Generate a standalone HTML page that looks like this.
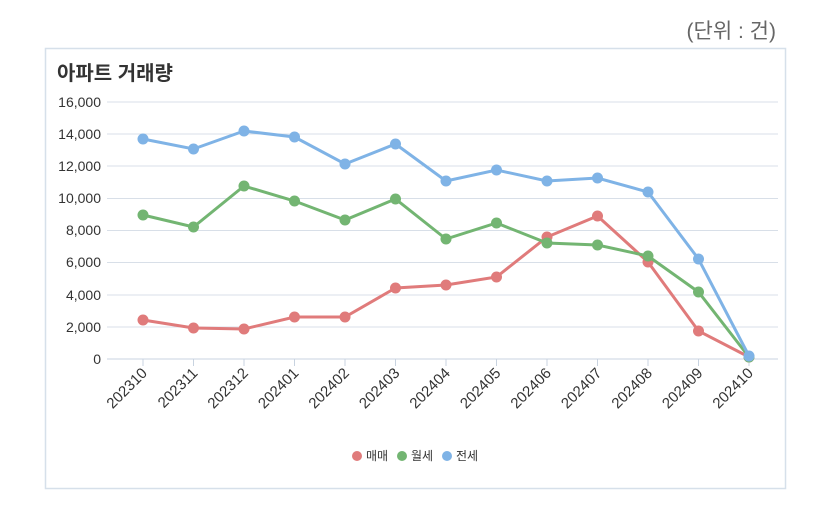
<!DOCTYPE html>
<html><head><meta charset="utf-8"><style>
body{margin:0;background:#fff;width:830px;height:523px;overflow:hidden;font-family:"Liberation Sans","Noto Sans CJK KR",sans-serif}
</style></head><body>
<svg width="830" height="523" xmlns="http://www.w3.org/2000/svg" font-family="Liberation Sans, Noto Sans CJK KR, sans-serif">
<text x="776" y="38" text-anchor="end" font-size="21" fill="#666">(단위 : 건)</text>
<rect x="45.5" y="48.5" width="740" height="440" fill="#fff" stroke="#d6e0ea" stroke-width="1.5"/>
<text x="57" y="80" font-size="20" font-weight="bold" fill="#333">아파트 거래량</text>
<g stroke="#d8dfe8" stroke-width="1">
<line x1="107" x2="778" y1="102" y2="102"/><line x1="107" x2="778" y1="134" y2="134"/>
<line x1="107" x2="778" y1="166" y2="166"/><line x1="107" x2="778" y1="198.5" y2="198.5"/>
<line x1="107" x2="778" y1="230.5" y2="230.5"/><line x1="107" x2="778" y1="262.5" y2="262.5"/>
<line x1="107" x2="778" y1="295" y2="295"/><line x1="107" x2="778" y1="327" y2="327"/>
<line x1="107" x2="778" y1="359" y2="359" stroke="#c8d3e0"/>
</g>
<g font-size="14" fill="#333" text-anchor="end">
<text x="101" y="107">16,000</text><text x="101" y="139">14,000</text><text x="101" y="171">12,000</text>
<text x="101" y="203">10,000</text><text x="101" y="235">8,000</text><text x="101" y="267">6,000</text>
<text x="101" y="300">4,000</text><text x="101" y="332">2,000</text><text x="101" y="364">0</text>
</g>
<g id="ticks" stroke="#c8d3e0"></g>
<g id="labels" font-size="15" fill="#333" text-anchor="end"></g>
<g id="series"></g>
<g font-size="12" fill="#333">
<circle cx="357" cy="456" r="5" fill="#e07b7b"/><text x="366" y="460">매매</text>
<circle cx="402" cy="456" r="5" fill="#73b572"/><text x="411" y="460">월세</text>
<circle cx="447" cy="456" r="5" fill="#7fb3e6"/><text x="456" y="460">전세</text>
</g>
</svg>
<script>
const labels=["202310","202311","202312","202401","202402","202403","202404","202405","202406","202407","202408","202409","202410"];
const ns="http://www.w3.org/2000/svg";
const X=i=>143+i*50.5;
const t=document.getElementById("ticks"),l=document.getElementById("labels"),s=document.getElementById("series");
labels.forEach((lb,i)=>{
 const ln=document.createElementNS(ns,"line");ln.setAttribute("x1",X(i));ln.setAttribute("x2",X(i));ln.setAttribute("y1",359);ln.setAttribute("y2",366);t.appendChild(ln);
 const tx=document.createElementNS(ns,"text");tx.setAttribute("transform",`translate(${X(i)+5},${374}) rotate(-45)`);tx.textContent=lb;l.appendChild(tx);
});
const data=[
 ["#e07b7b",[320,328,329,317,317,288,285,277,237,216,262,331,357]],
 ["#73b572",[215,227,186,201,220,199,239,223,243,245,256,292,357]],
 ["#7fb3e6",[139,149,131,137,164,144,181,170,181,178,192,259,356]]];
data.forEach(([c,ys])=>{
 const p=document.createElementNS(ns,"polyline");
 p.setAttribute("points",ys.map((y,i)=>X(i)+","+y).join(" "));
 p.setAttribute("fill","none");p.setAttribute("stroke",c);p.setAttribute("stroke-width","3");s.appendChild(p);
 ys.forEach((y,i)=>{const ci=document.createElementNS(ns,"circle");ci.setAttribute("cx",X(i));ci.setAttribute("cy",y);ci.setAttribute("r",5.5);ci.setAttribute("fill",c);s.appendChild(ci);});
});
</script>
</body></html>
